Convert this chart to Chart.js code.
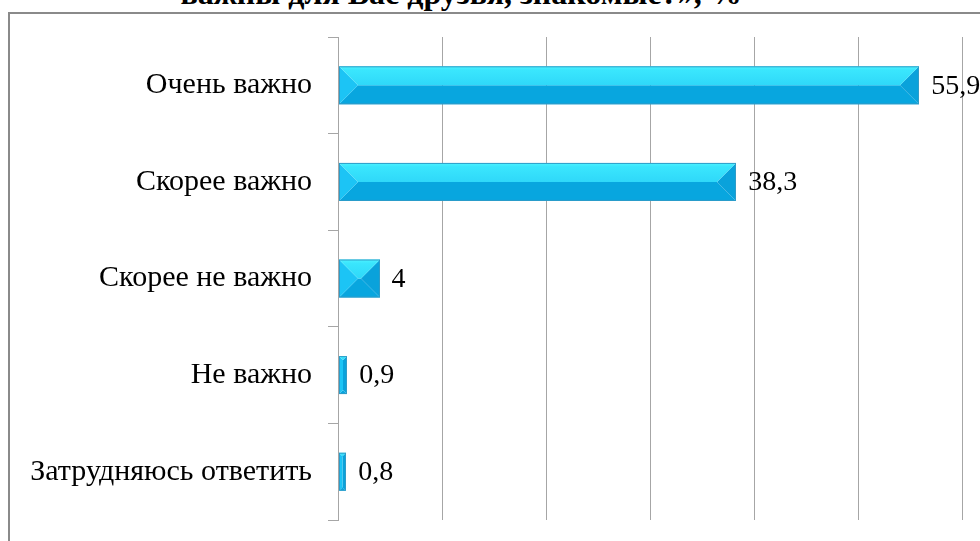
<!DOCTYPE html>
<html lang="ru">
<head>
<meta charset="utf-8">
<title>Друзья, знакомые</title>
<script src="https://cdn.jsdelivr.net/npm/chart.js@4/dist/chart.umd.min.js"></script>
<style>
  html, body { margin: 0; padding: 0; background: #fff; overflow: hidden; }
  #wrap { position: relative; width: 980px; height: 541px; overflow: hidden; }
  #frame {
    position: absolute; left: 8px; top: 12px;
    width: 1100px; height: 700px;
    border: 2px solid #8a8a8a;
  }
  #title {
    position: absolute; left: 0; top: -25px; width: 922px;
    text-align: center; white-space: nowrap;
    font: bold 32px "Liberation Serif", "Times New Roman", serif;
    color: #000;
  }
  #myChart { position: absolute; left: 0; top: 0; }
</style>
</head>
<body>
<div id="wrap">
  <div id="frame"></div>
  <div id="title">важны для Вас друзья, знакомые?», %</div>
  <canvas id="myChart" width="980" height="541"></canvas>
</div>
<script>
const categories = [
  "Очень важно",
  "Скорее важно",
  "Скорее не важно",
  "Не важно",
  "Затрудняюсь ответить",
];
const values = [55.9, 38.3, 4, 0.9, 0.8];
const axisMin = 0;
const axisMax = 60;
const axisStep = 10;

const serif = "'Liberation Serif', 'Times New Roman', serif";
const gridColor = "#a6a6a6";

function fmt(v) {
  return String(v).replace(".", ",");
}

// bars look like bevelled blocks: four faces meeting along the middle
function drawBevel(ctx, x0, x1, yc, h) {
  const y0 = yc - h / 2;
  const y1 = yc + h / 2;
  const w = x1 - x0;
  if (w <= 0) return;
  const d = Math.min(w, h) / 2;

  const face = (pts, fill) => {
    ctx.beginPath();
    ctx.moveTo(pts[0][0], pts[0][1]);
    for (let i = 1; i < pts.length; i++) ctx.lineTo(pts[i][0], pts[i][1]);
    ctx.closePath();
    ctx.fillStyle = fill;
    ctx.fill();
  };

  const topGrad = ctx.createLinearGradient(0, y0, 0, y0 + d);
  topGrad.addColorStop(0, "#4ef3ff");
  topGrad.addColorStop(0.2, "#3ae6fd");
  topGrad.addColorStop(1, "#2fd8f9");

  // centre (flat) part
  face([[x0 + d, y0 + d], [x1 - d, y0 + d], [x1 - d, y1 - d], [x0 + d, y1 - d]], "#12b4ea");
  // bottom
  face([[x0, y1], [x1, y1], [x1 - d, y1 - d], [x0 + d, y1 - d]], "#08a6df");
  // right
  face([[x1, y0], [x1, y1], [x1 - d, y1 - d], [x1 - d, y0 + d]], "#0aa2db");
  // left
  face([[x0, y0], [x0 + d, y0 + d], [x0 + d, y1 - d], [x0, y1]], "#1cc4f5");
  // top
  face([[x0, y0], [x1, y0], [x1 - d, y0 + d], [x0 + d, y0 + d]], topGrad);

  ctx.strokeStyle = "#2e9cc8";
  ctx.lineWidth = 1;
  ctx.strokeRect(x0 + 0.5, y0 + 0.5, w - 1, h - 1);
}

const bevelBars = {
  id: "bevelBars",
  afterDatasetsDraw(chart) {
    const ctx = chart.ctx;
    const meta = chart.getDatasetMeta(0);
    const ds = chart.data.datasets[0];
    ctx.save();
    meta.data.forEach((bar, i) => {
      const p = bar.getProps(["x", "y", "base", "height"], true);
      drawBevel(ctx, Math.round(p.base), Math.round(p.x), p.y, Math.round(p.height));

      ctx.fillStyle = "#000";
      ctx.font = "28px " + serif;
      ctx.textAlign = "left";
      ctx.textBaseline = "middle";
      ctx.fillText(fmt(ds.data[i]), p.x + 12, p.y + 1);
    });
    ctx.restore();
  },
};

const ctx = document.getElementById("myChart").getContext("2d");
const myChart = new Chart(ctx, {
  type: "bar",
  data: {
    labels: categories,
    datasets: [
      {
        data: values,
        backgroundColor: "rgba(0,0,0,0)",
        borderWidth: 0,
        barPercentage: 0.39,
        categoryPercentage: 1,
      },
    ],
  },
  options: {
    indexAxis: "y",
    responsive: false,
    animation: false,
    layout: {
      padding: { left: 0, top: 37, right: 18, bottom: 21 },
    },
    plugins: {
      legend: { display: false },
      title: { display: false },
      tooltip: { enabled: false },
    },
    scales: {
      x: {
        min: axisMin,
        max: axisMax,
        ticks: { display: false, stepSize: axisStep },
        grid: {
          color: gridColor,
          lineWidth: 1,
          drawTicks: false,
        },
        border: { display: false },
        afterFit(scale) {
          scale.height = 0;
          scale.paddingLeft = 0;
          scale.paddingRight = 0;
        },
      },
      y: {
        offset: true,
        grid: {
          offset: true,
          drawOnChartArea: false,
          drawTicks: true,
          tickLength: 10,
          color: gridColor,
        },
        border: { display: true, color: gridColor, width: 1 },
        ticks: {
          color: "#000",
          padding: 16,
          font: { family: serif, size: 30 },
        },
        afterFit(scale) {
          scale.width = 338;
          scale.paddingTop = 0;
          scale.paddingBottom = 0;
        },
      },
    },
  },
  plugins: [bevelBars],
});
</script>
</body>
</html>
